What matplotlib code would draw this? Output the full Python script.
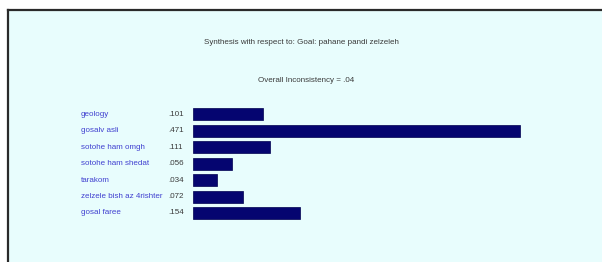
import matplotlib.pyplot as plt
from matplotlib.patches import Rectangle

labels = ["geology", "gosalv asli", "sotohe ham omgh", "sotohe ham shedat",
          "tarakom", "zelzele bish az 4rishter", "gosal faree"]
values = [0.101, 0.471, 0.111, 0.056, 0.034, 0.072, 0.154]
value_text = [".101", ".471", ".111", ".056", ".034", ".072", ".154"]
title = "Synthesis with respect to: Goal: pahane pandi zelzeleh"
subtitle = "Overall Inconsistency = .04"

W, H = 602, 262
fig = plt.figure(figsize=(W / 100, H / 100), dpi=100)
fig.patch.set_facecolor("white")

# panel with dark frame on left/top
fig.patches.append(Rectangle((8 / W, 0), 1, (H - 10) / H, transform=fig.transFigure,
                             facecolor="#e8fdfd", edgecolor="none", zorder=-5))
fig.add_artist(plt.Line2D([8 / W, 8 / W], [0, (H - 10) / H], color="#2a2a2a", lw=1.6, zorder=-4))
fig.add_artist(plt.Line2D([8 / W, 1], [(H - 10) / H, (H - 10) / H], color="#2a2a2a", lw=1.6, zorder=-4))

fs = 5.8
fig.text(301 / W, 1 - 43 / H, title, ha="center", va="center", fontsize=fs,
         color="#3a3a3a", family="Liberation Sans")
fig.text(306 / W, 1 - 81 / H, subtitle, ha="center", va="center", fontsize=fs,
         color="#3a3a3a", family="Liberation Sans")

# bar axes: x=0 at px 193, 694 px per unit
x0 = 193
xmax = 0.6
top, bottom = 106.1, 221.2
ax = fig.add_axes([x0 / W, (H - bottom) / H, xmax * 694 / W, (bottom - top) / H])
ax.set_zorder(5)
ax.set_facecolor("none")
ypos = list(range(len(labels)))
ax.barh(ypos, values, height=0.73, color="#050570", edgecolor="#000050", lw=0.5)
ax.set_xlim(0, xmax)
ax.set_ylim(len(labels) - 0.5, -0.5)
ax.axis("off")

for y, lab, vt in zip(ypos, labels, value_text):
    ax.text(-(193 - 81) / 694, y, lab, ha="left", va="center", fontsize=fs,
            color="#4040d0", family="Liberation Sans")
    ax.text(-(193 - 168) / 694, y, vt, ha="left", va="center", fontsize=fs,
            color="#3a3a3a", family="Liberation Sans")

fig.savefig("out.png", dpi=100)
